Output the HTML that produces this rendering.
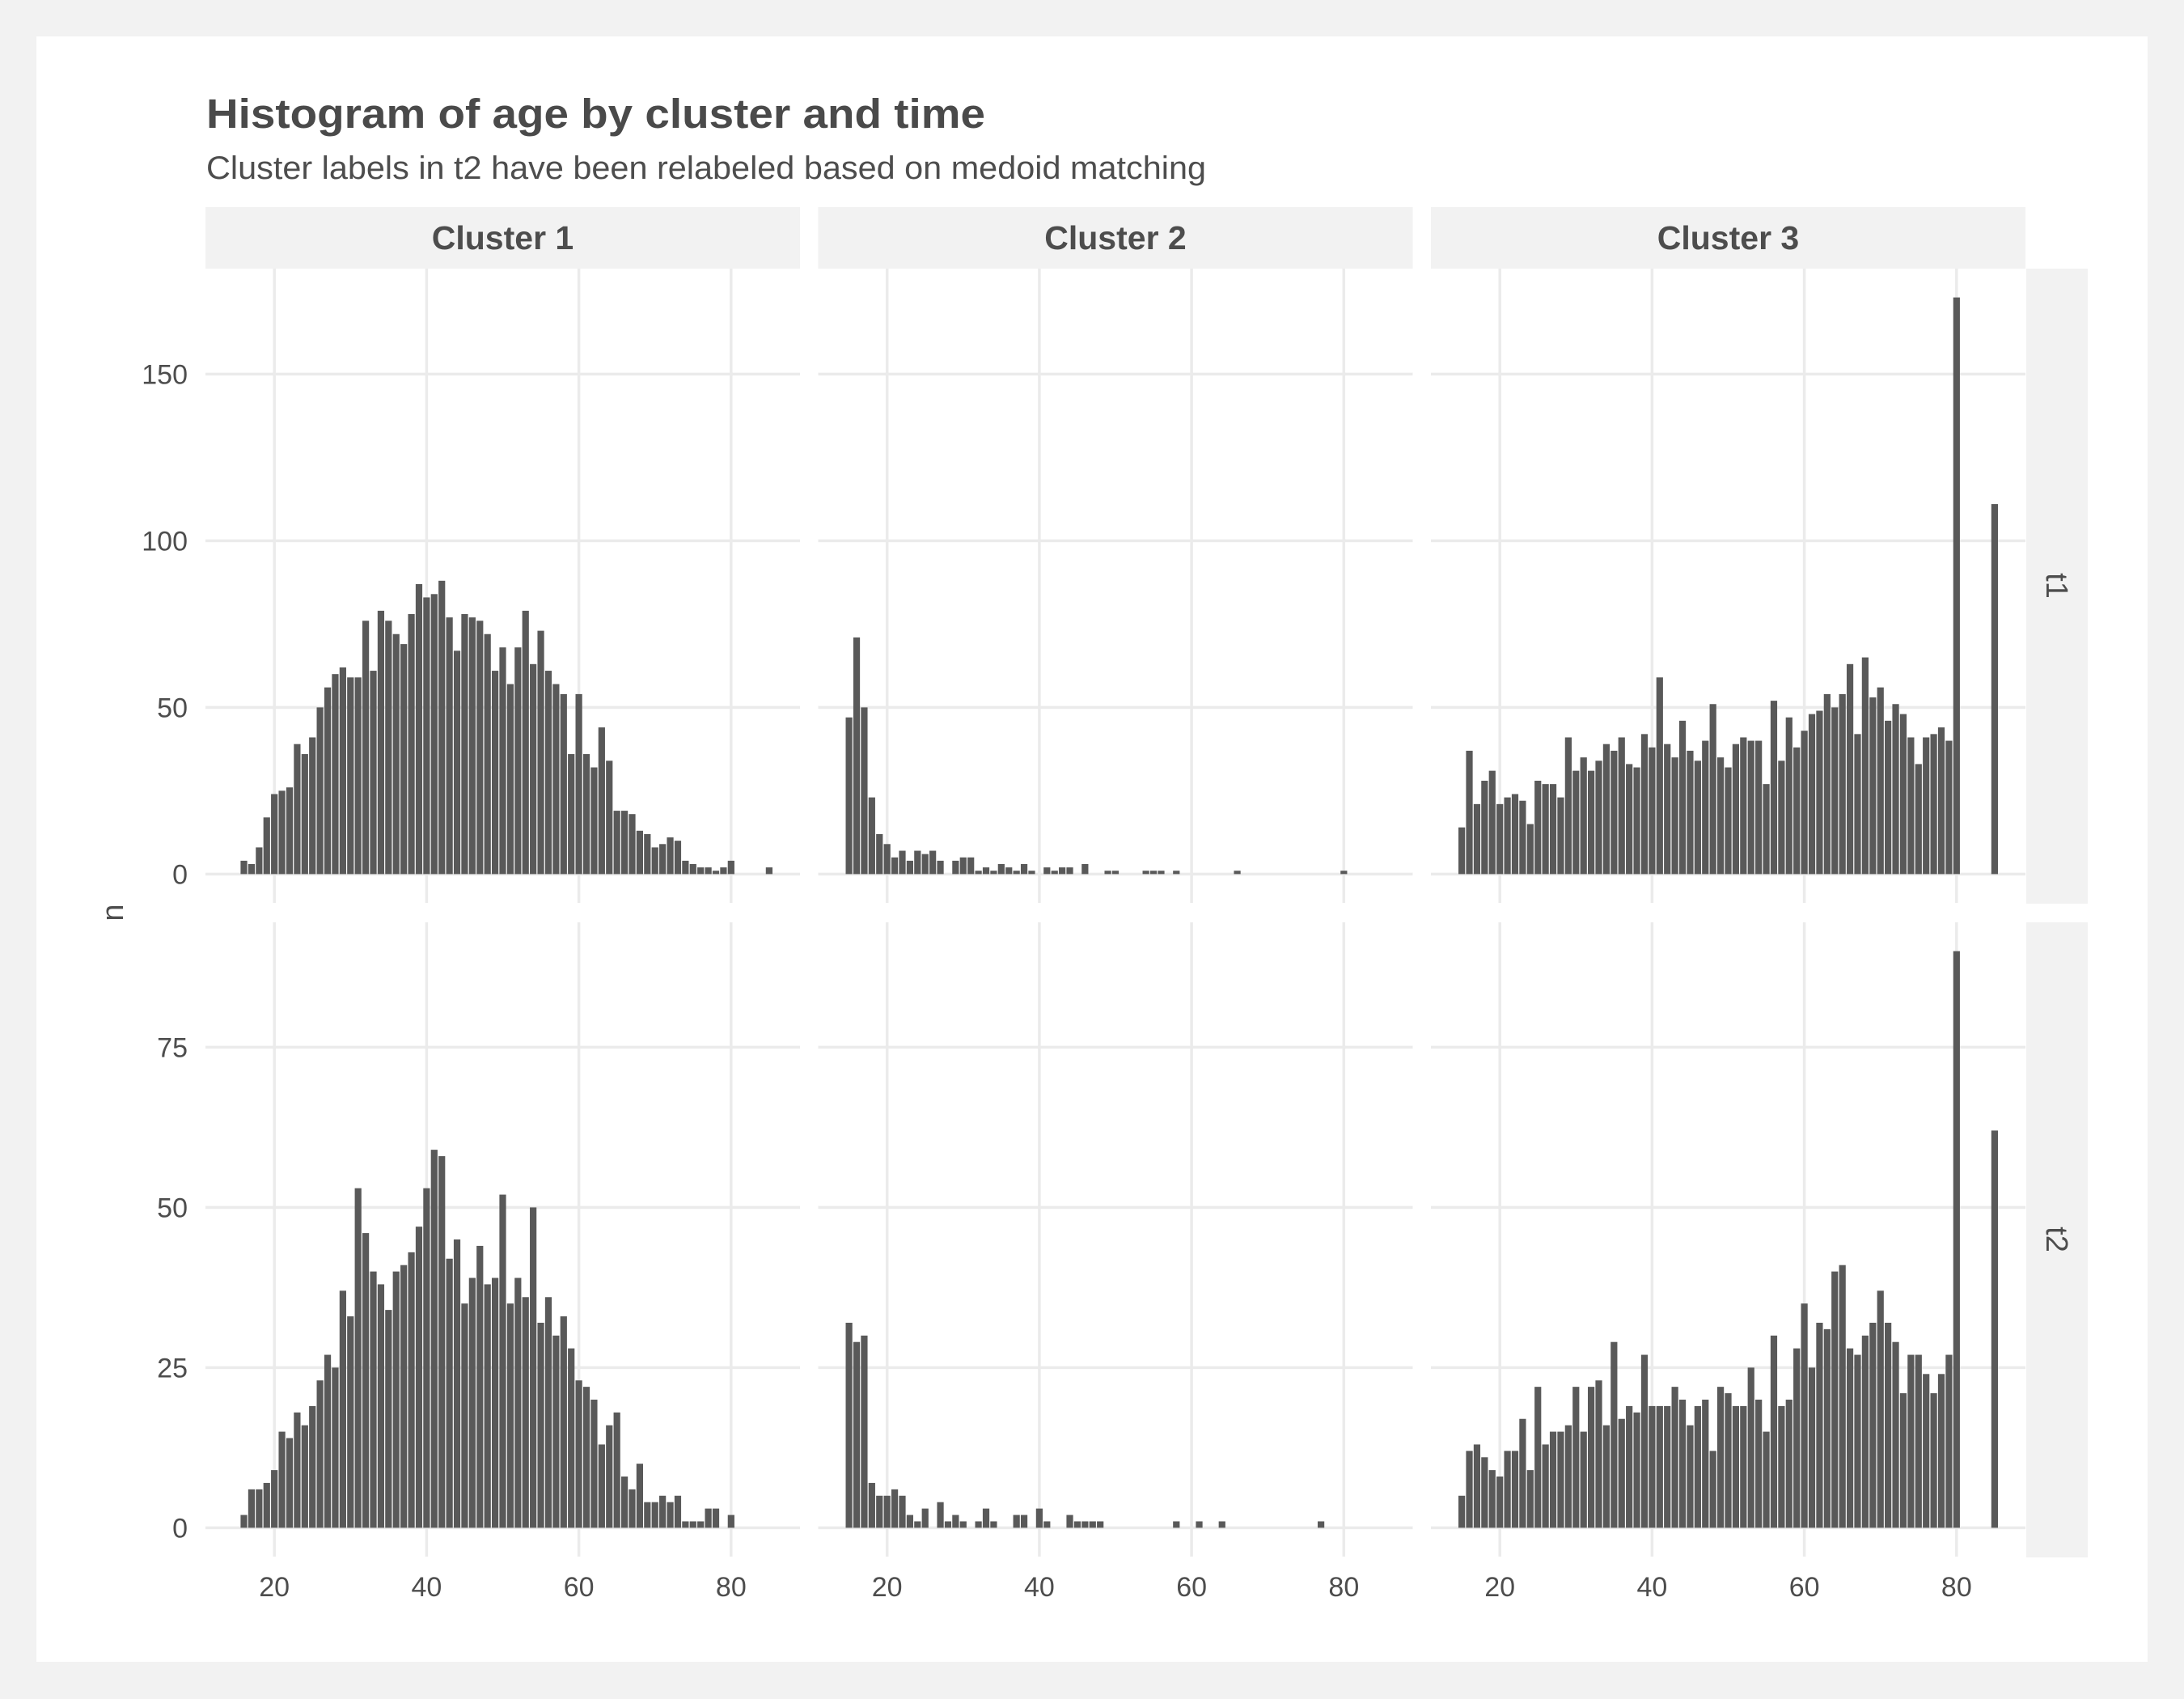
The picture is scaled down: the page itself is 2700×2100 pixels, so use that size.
<!DOCTYPE html>
<html><head><meta charset="utf-8"><style>
html,body{margin:0;padding:0;background:#f2f2f2;}
svg{display:block;font-family:"Liberation Sans",Arial,sans-serif;}
</style></head><body>
<svg id="chart" width="2700" height="2100" viewBox="0 0 2700 2100" xmlns="http://www.w3.org/2000/svg">
<rect x="0" y="0" width="2700" height="2100" fill="#f2f2f2"/>
<rect x="45" y="45" width="2610" height="2009" fill="#ffffff"/>
<text x="255" y="158" font-size="51" font-weight="bold" fill="#4a4a4a" textLength="963" lengthAdjust="spacingAndGlyphs">Histogram of age by cluster and time</text>
<text x="255" y="221" font-size="40" fill="#4d4d4d" textLength="1236" lengthAdjust="spacingAndGlyphs">Cluster labels in t2 have been relabeled based on medoid matching</text>
<text transform="translate(152,1128) rotate(-90)" text-anchor="middle" font-size="38" fill="#4d4d4d">n</text>
<g id="panels"></g>
</svg>
<script>
const columns = ["Cluster 1", "Cluster 2", "Cluster 3"];
const rows = ["t1", "t2"];
const xTicks = [20, 40, 60, 80];
const yTicksT1 = [0, 50, 100, 150];
const yTicksT2 = [0, 25, 50, 75];
const c1t1Start = 16;
const c1t1Counts = [4,3,8,17,24,25,26,39,36,41,50,56,60,62,59,59,76,61,79,76,72,69,78,87,83,84,88,77,67,78,77,76,72,61,68,57,68,79,63,73,61,57,54,36,54,36,32,44,34,19,19,18,13,12,8,9,11,10,4,3,2,2,1,2,4,0,0,0,0,2];
const c1t2Start = 16;
const c1t2Counts = [2,6,6,7,9,15,14,18,16,19,23,27,25,37,33,53,46,40,38,34,40,41,43,47,53,59,58,42,45,35,39,44,38,39,52,35,39,36,50,32,36,30,33,28,23,22,20,13,16,18,8,6,10,4,4,5,4,5,1,1,1,3,3,0,2];
const c2t1Start = 15;
const c2t1Counts = [47,71,50,23,12,9,5,7,4,7,6,7,4,0,4,5,5,1,2,1,3,2,1,3,1,0,2,1,2,2,0,3,0,0,1,1,0,0,0,1,1,1,0,1,0,0,0,0,0,0,0,1,0,0,0,0,0,0,0,0,0,0,0,0,0,1];
const c2t2Start = 15;
const c2t2Counts = [32,29,30,7,5,5,6,5,2,1,3,0,4,1,2,1,0,1,3,1,0,0,2,2,0,3,1,0,0,2,1,1,1,1,0,0,0,0,0,0,0,0,0,1,0,0,1,0,0,1,0,0,0,0,0,0,0,0,0,0,0,0,1];
const c3t1Start = 15;
const c3t1Counts = [14,37,21,28,31,21,23,24,22,15,28,27,27,23,41,31,35,31,34,39,37,41,33,32,42,38,59,39,35,46,37,34,40,51,35,32,39,41,40,40,27,52,34,47,38,43,48,49,54,50,54,63,42,65,53,56,46,51,48,41,33,41,42,44,40,173,0,0,0,0,111];
const c3t2Start = 15;
const c3t2Counts = [5,12,13,11,9,8,12,12,17,9,22,13,15,15,16,22,15,22,23,16,29,17,19,18,27,19,19,19,22,20,16,19,20,12,22,21,19,19,25,20,15,30,19,20,28,35,25,32,31,40,41,28,27,30,32,37,32,29,21,27,27,24,21,24,27,90,0,0,0,0,62];

const NS = "http://www.w3.org/2000/svg";
const root = document.getElementById("panels");
function mk(tag, attrs, parent) {
  const e = document.createElementNS(NS, tag);
  for (const k in attrs) e.setAttribute(k, attrs[k]);
  (parent || root).appendChild(e);
  return e;
}
const colX = [254, 1011.5, 1769];
const colW = 735;
const rowY = [332, 1140];
const rowH = 784;
const xMin = 10.95, xMax = 89.05;
const yDomains = [[-8.65, 181.65], [-4.5, 94.5]];
const seriesStarts = [[c1t1Start, c1t2Start], [c2t1Start, c2t2Start], [c3t1Start, c3t2Start]];
const seriesCounts = [[c1t1Counts, c1t2Counts], [c2t1Counts, c2t2Counts], [c3t1Counts, c3t2Counts]];
const yTickSets = [yTicksT1, yTicksT2];

columns.forEach((name, ci) => {
  const sx = colX[ci];
  const s = mk("rect", {x: sx, y: 256, width: colW, height: 76, fill: "#f2f2f2"});
  
  
  const t = mk("text", {x: sx + colW / 2, y: 308, "text-anchor": "middle", "font-size": 41, "font-weight": "bold", fill: "#4d4d4d"});
  t.textContent = name;
  
  
});

rows.forEach((rname, ri) => {
  const py = rowY[ri];
  const s = mk("rect", {x: 2505, y: py, width: 76, height: rowH + 1, fill: "#f2f2f2"});
  
  
  const t = mk("text", {transform: "translate(2530," + (py + rowH / 2) + ") rotate(90)", "text-anchor": "middle", "font-size": 38, fill: "#4d4d4d"});
  t.textContent = rname;
  
  
});

rows.forEach((rname, ri) => {
  const py = rowY[ri];
  const [y0, y1] = yDomains[ri];
  const yScale = v => py + rowH - (v - y0) / (y1 - y0) * rowH;
  const ticks = yTickSets[ri];
  ticks.forEach(tv => {
    const lab = mk("text", {x: 232, y: yScale(tv) + 12, "text-anchor": "end", "font-size": 34, fill: "#4d4d4d"});
    lab.textContent = tv;
    
    
  });
  columns.forEach((cname, ci) => {
    const px = colX[ci];
    const xScale = v => px + (v - xMin) / (xMax - xMin) * colW;
    const g = mk("g", {});
    
    
    ticks.forEach(tv => {
      const gl = mk("line", {x1: px, x2: px + colW, y1: yScale(tv), y2: yScale(tv), stroke: "#ebebeb", "stroke-width": 3.5}, g);
      
      
    });
    xTicks.forEach(tv => {
      const gl = mk("line", {x1: xScale(tv), x2: xScale(tv), y1: py, y2: py + rowH, stroke: "#ebebeb", "stroke-width": 3.5}, g);
      
      
    });
    const start = seriesStarts[ci][ri];
    const counts = seriesCounts[ci][ri];
    counts.forEach((c, i) => {
      if (c <= 0) return;
      const age = start + i;
      const xl = xScale(age - 0.5), xr = xScale(age + 0.5);
      const yt = yScale(c), yb = yScale(0);
      const b = mk("rect", {x: xl + 0.6, y: yt, width: xr - xl - 1.2, height: yb - yt, fill: "#595959"}, g);
      
      
    });
    if (ri === 1) {
      xTicks.forEach(tv => {
        const lab = mk("text", {x: xScale(tv), y: 1973, "text-anchor": "middle", "font-size": 34, fill: "#4d4d4d"});
        lab.textContent = tv;
        
        
      });
    }
  });
});
</script>
</body></html>
